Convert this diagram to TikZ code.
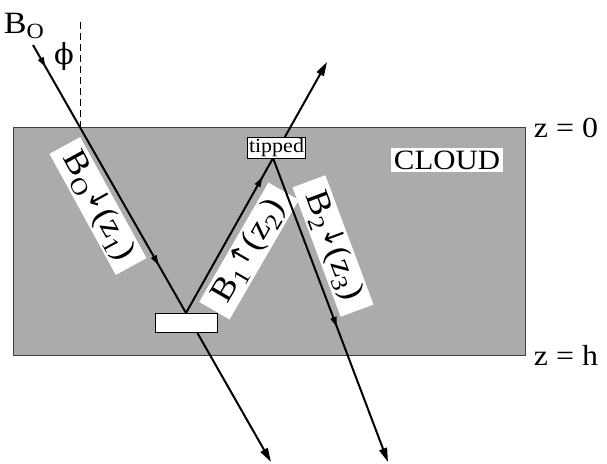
\documentclass[tikz,border=0pt]{standalone}
\usepackage{fontspec}
\setmainfont{Liberation Serif}[FakeStretch=1.1]
\newfontfamily\symfont{DejaVu Sans}
\newfontfamily\greekfont{DejaVu Serif}
\newcommand{\smallarr}[1]{\raisebox{3pt}{\symfont\fontsize{27}{27}\selectfont #1}}
\usetikzlibrary{arrows.meta,decorations.markings}
\begin{document}
\begin{tikzpicture}[x=1pt,y=-1pt,
  ray/.style={line width=2pt,-{Triangle[length=14pt,width=8pt]}},
  midarrow/.style={postaction={decorate,decoration={markings,
      mark=at position #1 with {\arrow{Triangle[length=10pt,width=6pt]}}}}},
  lab/.style={fill=white,inner sep=0pt,minimum width=138pt,minimum height=35pt,
      font=\fontsize{33}{36}\selectfont},
  big/.style={font=\fontsize{29}{33}\selectfont,inner sep=0pt},
  whitebox/.style={draw=black,line width=1pt,fill=white}
]
\useasboundingbox (0,0) rectangle (607,463);
% cloud slab
\node (cloud) [fill=black!33,draw=black!75,line width=0.8pt,minimum width=512pt,
  minimum height=228pt,inner sep=0pt] at (269,241) {};
% vertical reference (dashed)
\coordinate (vtop) at (80,22);
\coordinate (vbot) at (80,127);
\draw[dashed,dash pattern=on 7pt off 4pt,line width=1pt] (vtop) -- (vbot);
% labels on rays
\node (lab0) [lab,rotate=-61.3] at (98,206) {B\textsubscript{O}\smallarr{↓}(z\textsubscript{1})};
\node (lab1) [lab,rotate=59.9] at (249,251) {B\textsubscript{1}\smallarr{↑}(z\textsubscript{2})};
\node (lab2) [lab,rotate=-69.6] at (333,246) {B\textsubscript{2}\smallarr{↓}(z\textsubscript{3})};
\node (cl) [fill=white,inner sep=3pt,font=\fontsize{28}{32}\selectfont] at (447,160) {CLOUD};
% geometry of rays
\coordinate (b0s) at (33,45);
\coordinate (b0e) at (271,462);
\coordinate (b1e) at (327,62);
\coordinate (t) at (273,158);
\coordinate (b2e) at (388,462);
\coordinate (pr) at (186,313);
\draw[ray,midarrow=0.053] (b0s) -- (pr) -- (b0e);
\draw[line width=2pt,draw=none,midarrow=0.528] (b0s) -- (pr) -- (b0e);
\draw[ray,midarrow=0.542] (pr) -- (b1e);
\draw[ray,midarrow=0.556] (t) -- (b2e);
% reflecting layer and tipped layer
\node (refl) [whitebox,minimum width=62pt,minimum height=19pt,inner sep=0pt] at (186,322.5) {};
\node (tipped) [whitebox,inner sep=1.5pt,font=\fontsize{20}{22}\selectfont] at (276.5,148) {tipped};
% text labels
\node (bo) [font=\fontsize{31}{34}\selectfont,inner sep=0pt] at (24,26) {B\textsubscript{O}};
\node (phi) [big] at (64,56) {\greekfont ϕ};
\node (z0) [big] at (566,128) {z = 0};
\node (zh) [big] at (566,355) {z = h};
\end{tikzpicture}
\end{document}
